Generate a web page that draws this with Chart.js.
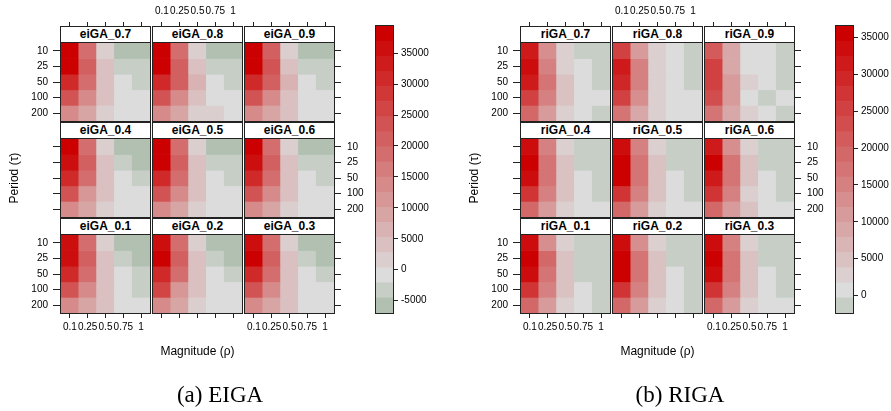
<!DOCTYPE html>
<html><head><meta charset="utf-8">
<script src="https://cdn.jsdelivr.net/npm/chart.js@4.4.1/dist/chart.umd.min.js"></script>
<style>
html,body{margin:0;padding:0;background:#fff;width:891px;height:411px;overflow:hidden;font-family:"Liberation Sans",Arial,sans-serif;}
canvas{position:absolute;left:0;top:0;}
.strip{position:absolute;box-sizing:border-box;background:#fff;border:1px solid #222;font-weight:bold;font-size:12px;text-align:center;line-height:15px;color:#000;white-space:nowrap;}
.lbl{position:absolute;font-size:12px;color:#000;white-space:nowrap;text-align:center;}
.cap{position:absolute;font-family:"Liberation Serif","DejaVu Serif",serif;font-size:23px;color:#000;white-space:nowrap;text-align:center;}
</style></head><body>
<script>
// ---------------- DATA ----------------
const magnitudes = ['0.1', '0.25', '0.5', '0.75', '1'];
const periods = ['10', '25', '50', '100', '200'];

// lattice layout (top row first)
const eigaLayout = [['eiGA_0.7', 'eiGA_0.8', 'eiGA_0.9'], ['eiGA_0.4', 'eiGA_0.5', 'eiGA_0.6'], ['eiGA_0.1', 'eiGA_0.2', 'eiGA_0.3']];
const rigaLayout = [['riGA_0.7', 'riGA_0.8', 'riGA_0.9'], ['riGA_0.4', 'riGA_0.5', 'riGA_0.6'], ['riGA_0.1', 'riGA_0.2', 'riGA_0.3']];

// rows = periods (10..200), columns = magnitudes (0.1..1)
const eiGA_01 = [[35700, 18600, 1550, -5800, -5800], [35700, 21100, 4000, -3300, -5800], [30900, 18600, 4000, -900, -3300], [23500, 13800, 4000, -900, -3300], [13800, 8900, 4000, -900, -900]];
const eiGA_02 = [[35700, 18600, 1550, -5800, -5800], [38200, 21100, 4000, -3300, -5800], [30900, 18600, 4000, -900, -3300], [26000, 11300, 4000, -900, -900], [13800, 8900, 1550, -900, -900]];
const eiGA_03 = [[35700, 18600, 1550, -5800, -5800], [38200, 21100, 4000, -3300, -5800], [30900, 18600, 4000, -900, -3300], [23500, 13800, 4000, -900, -900], [13800, 8900, 4000, -900, -900]];
const eiGA_04 = [[38200, 18600, 1550, -5800, -5800], [35700, 21100, 4000, -3300, -5800], [30900, 18600, 4000, -900, -3300], [23500, 11300, 4000, -900, -900], [13800, 8900, 1550, -900, -900]];
const eiGA_05 = [[38200, 18600, 1550, -5800, -5800], [38200, 21100, 4000, -3300, -3300], [30900, 18600, 4000, -900, -3300], [23500, 13800, 4000, -900, -900], [13800, 8900, 1550, -900, -900]];
const eiGA_06 = [[38200, 18600, 1550, -5800, -5800], [35700, 21100, 4000, -3300, -3300], [30900, 18600, 4000, -900, -3300], [23500, 13800, 4000, -900, -900], [13800, 8900, 1550, -900, -900]];
const eiGA_07 = [[38200, 18600, 1550, -5800, -5800], [38200, 21100, 4000, -3300, -3300], [30900, 18200, 4000, -900, -3300], [23500, 13800, 4000, -900, -900], [13800, 8900, 1550, -900, -900]];
const eiGA_08 = [[38200, 18600, 1550, -5800, -5800], [38200, 21100, 4000, -3300, -3300], [30900, 21100, 6400, -900, -3300], [23500, 13800, 4000, -900, -900], [13800, 8900, 1550, 1550, -900]];
const eiGA_09 = [[38200, 21100, 1550, -5800, -5800], [38200, 23500, 4000, -3300, -3300], [30900, 21100, 6400, -900, -3300], [23500, 13800, 4000, -900, -900], [13800, 8900, 4000, -900, -900]];

const riGA_01 = [[33500, 13000, 2800, -1300, -1300], [35500, 19100, 4800, -1300, -1300], [33500, 17100, 4800, -1300, -1300], [27300, 15000, 4800, 700, -1300], [19100, 11000, 2800, 700, -1300]];
const riGA_02 = [[33500, 14000, 2800, -1300, -1300], [35500, 17100, 4800, -1300, -1300], [35000, 17100, 4800, 700, -1300], [27300, 15000, 4800, 700, -1300], [19100, 11000, 2800, 700, -1300]];
const riGA_03 = [[33500, 15000, 2800, -1300, -1300], [35500, 17100, 4800, -1300, -1300], [33500, 17100, 4800, 700, -1300], [27300, 15000, 4800, 700, -1300], [19100, 11000, 2800, 700, 700]];
const riGA_04 = [[33500, 15000, 2800, -1300, -1300], [35500, 17100, 4800, -1300, -1300], [33500, 17100, 4800, 700, -1300], [27300, 15000, 4800, 700, -1300], [19100, 11000, 2800, 700, 700]];
const riGA_05 = [[33500, 15000, 2800, -1300, -1300], [35500, 17100, 4800, -1300, -1300], [35000, 17100, 4800, 700, -1300], [27300, 15000, 4800, 700, -1300], [19100, 11000, 2800, 700, 700]];
const riGA_06 = [[31400, 13000, 2800, -1300, -1300], [35500, 17100, 4800, -1300, -1300], [31400, 17100, 4800, 700, -1300], [27300, 15000, 2800, 700, -1300], [19100, 11000, 4800, 700, 700]];
const riGA_07 = [[31400, 13000, 2800, -1300, -1300], [33500, 15000, 2800, 700, -1300], [32000, 17100, 4800, 700, -1300], [25300, 15000, 4800, 700, 700], [19100, 11000, 2800, 700, -1300]];
const riGA_08 = [[25300, 11000, 2800, 700, -1300], [31400, 15000, 2800, 700, -1300], [29400, 15000, 2800, 700, -1300], [25300, 13000, 2800, 700, 700], [17100, 8900, 2800, 700, 700]];
const riGA_09 = [[21200, 8900, 700, 700, -1300], [25300, 8900, 700, 700, -1300], [25300, 11000, 2800, 700, -1300], [23200, 11000, 700, -1300, 700], [17100, 8900, 2800, 700, -1300]];

// colour key breaks and tick labels
const eigaBreaks = [-7000, -4558, -2116, 326, 2768, 5211, 7653, 10095, 12537, 14979, 17421, 19863, 22305, 24747, 27189, 29632, 32074, 34516, 36958, 39400];
const rigaBreaks = [-2350, -304, 1743, 3789, 5835, 7882, 9928, 11974, 14021, 16067, 18113, 20160, 22206, 24252, 26298, 28345, 30391, 32437, 34484, 36530];
const eigaKeyTicks = [-5000, 0, 5000, 10000, 15000, 20000, 25000, 30000, 35000];
const rigaKeyTicks = [0, 5000, 10000, 15000, 20000, 25000, 30000, 35000];

// ---------------- STYLE ----------------
const eigaBandColors = ['#B2C0B2', '#C6CEC6', '#DCDCDC', '#DBCECE', '#DAC0C0', '#D9B3B3', '#D8A5A5', '#D79797', '#D68A8A', '#D57C7C', '#D46E6E', '#D36060', '#D25353', '#D14545', '#D03737', '#CF2929', '#CE1C1C', '#CD0E0E', '#CC0000'];
const rigaBandColors = ['#C6CEC6', '#DCDCDC', '#DBCFCF', '#DAC2C2', '#D9B5B5', '#D8A8A8', '#D79B9B', '#D68E8E', '#D58181', '#D47474', '#D36868', '#D35B5B', '#D24E4E', '#D14141', '#D03434', '#CF2727', '#CE1A1A', '#CD0D0D', '#CC0000'];

const eigaValues = { 'eiGA_0.1': eiGA_01, 'eiGA_0.2': eiGA_02, 'eiGA_0.3': eiGA_03, 'eiGA_0.4': eiGA_04, 'eiGA_0.5': eiGA_05, 'eiGA_0.6': eiGA_06, 'eiGA_0.7': eiGA_07, 'eiGA_0.8': eiGA_08, 'eiGA_0.9': eiGA_09 };
const rigaValues = { 'riGA_0.1': riGA_01, 'riGA_0.2': riGA_02, 'riGA_0.3': riGA_03, 'riGA_0.4': riGA_04, 'riGA_0.5': riGA_05, 'riGA_0.6': riGA_06, 'riGA_0.7': riGA_07, 'riGA_0.8': riGA_08, 'riGA_0.9': riGA_09 };

const W = 891, H = 411;
const CELL_X0 = 61, PITCH_X = 92, CW = 89;
const CELL_Y0 = 43, PITCH_Y = 96, CH = 78;
const STRIP_H = 17;
const LINE = '#222';
const FONT = "'Liberation Sans', Arial, sans-serif";

Chart.defaults.font.family = FONT;
Chart.defaults.font.size = 10;
Chart.defaults.color = '#000';

function colorFor(v, breaks, colors) {
  for (let i = 0; i < colors.length; i++) {
    if (v >= breaks[i] && v < breaks[i + 1]) return colors[i];
  }
  return v < breaks[0] ? colors[0] : colors[colors.length - 1];
}

const framePlugin = {
  id: 'frame',
  afterDraw(chart) {
    const a = chart.chartArea, ctx = chart.ctx;
    ctx.save();
    ctx.strokeStyle = LINE; ctx.lineWidth = 1;
    ctx.strokeRect(a.left - 0.5, a.top - 0.5, a.right - a.left + 1, a.bottom - a.top + 1);
    ctx.restore();
  }
};

function makeCanvas() {
  const c = document.createElement('canvas');
  c.width = W; c.height = H;
  c.style.width = W + 'px'; c.style.height = H + 'px';
  document.body.appendChild(c);
  return c;
}

function addDiv(cls, text, css) {
  const d = document.createElement('div');
  d.className = cls; d.textContent = text;
  Object.assign(d.style, css);
  document.body.appendChild(d);
  return d;
}

function panelChart(name, values, row, col, ox, breaks, colors) {
  const left = ox + CELL_X0 + col * PITCH_X, top = CELL_Y0 + row * PITCH_Y;
  const hasTop = row === 0, hasBottom = row === 2, hasLeft = col === 0, hasRight = col === 2;
  const hasX = hasTop || hasBottom, hasY = hasLeft || hasRight;
  const showX = hasTop ? col === 1 : col !== 1;
  const showY = hasLeft ? row !== 1 : row === 1;
  const XT = 40, XB = 30, YL = 40, YR = 40;
  new Chart(makeCanvas(), {
    type: 'bar',
    data: {
      labels: magnitudes,
      datasets: periods.map((p, i) => ({
        label: p,
        data: magnitudes.map(() => 1),
        backgroundColor: values[i].map(v => colorFor(v, breaks, colors)),
        borderWidth: 0,
        barPercentage: 1,
        categoryPercentage: 1
      }))
    },
    options: {
      responsive: false, animation: false, devicePixelRatio: 1, events: [],
      layout: {
        padding: {
          left: left - (hasLeft ? YL : 0),
          right: W - (left + CW) - (hasRight ? YR : 0),
          top: top - (hasTop ? XT : 0),
          bottom: H - (top + CH) - (hasBottom ? XB : 0)
        }
      },
      plugins: { legend: { display: false }, tooltip: { enabled: false }, title: { display: false } },
      scales: {
        x: {
          type: 'category', stacked: true, offset: true,
          display: hasX,
          position: hasTop ? 'top' : 'bottom',
          grid: { offset: false, drawOnChartArea: false, drawTicks: true, tickLength: hasTop ? 21 : 5, color: LINE },
          border: { display: false },
          ticks: { display: showX, padding: hasTop ? 5 : 3, maxRotation: 0, minRotation: 0, autoSkip: false, color: '#000', font: { size: 10 } },
          afterFit: s => { s.height = hasX ? (hasTop ? XT : XB) : 0; }
        },
        y: {
          type: 'linear', stacked: true, min: 0, max: 5, reverse: true,
          display: hasY,
          position: hasLeft ? 'left' : 'right',
          grid: { drawOnChartArea: false, drawTicks: true, tickLength: hasLeft ? 8 : 7, color: LINE },
          border: { display: false },
          afterBuildTicks: s => { s.ticks = periods.map((p, i) => ({ value: i + 0.5 })); },
          ticks: { display: showY, autoSkip: false, padding: hasLeft ? 5 : 6, color: '#000', font: { size: 10 }, callback: (v, i) => periods[i] },
          afterFit: s => { s.width = hasY ? (hasLeft ? YL : YR) : 0; }
        }
      }
    },
    plugins: [framePlugin]
  });
  addDiv('strip', name, { left: (left - 1) + 'px', top: (top - STRIP_H) + 'px', width: (CW + 2) + 'px', height: STRIP_H + 'px' });
}

function keyChart(ox, breaks, colors, keyTicks) {
  const left = ox + 376, right = ox + 393, top = 26, bottom = 313;
  new Chart(makeCanvas(), {
    type: 'bar',
    data: {
      labels: ['key'],
      datasets: colors.map((c, i) => ({
        data: [[breaks[i], breaks[i + 1]]],
        backgroundColor: c, borderWidth: 0, grouped: false,
        barPercentage: 1, categoryPercentage: 1
      }))
    },
    options: {
      responsive: false, animation: false, devicePixelRatio: 1, events: [],
      layout: { padding: { left: left, right: W - right - 60, top: top, bottom: H - bottom } },
      plugins: { legend: { display: false }, tooltip: { enabled: false } },
      scales: {
        x: { display: false, offset: true },
        y: {
          type: 'linear', min: breaks[0], max: breaks[breaks.length - 1], position: 'right',
          grid: { drawOnChartArea: false, drawTicks: true, tickLength: 5, color: LINE },
          border: { display: false },
          afterBuildTicks: s => { s.ticks = keyTicks.map(v => ({ value: v })); },
          ticks: { autoSkip: false, padding: 3, color: '#000', font: { size: 10 }, callback: v => String(v) },
          afterFit: s => { s.width = 60; }
        }
      }
    },
    plugins: [framePlugin]
  });
}

function lattice(ox, layout, valueMap, breaks, colors, keyTicks, caption) {
  layout.forEach((rowNames, r) => rowNames.forEach((name, c) => {
    panelChart(name, valueMap[name], r, c, ox, breaks, colors);
  }));
  keyChart(ox, breaks, colors, keyTicks);
  const midX = ox + CELL_X0 + PITCH_X + CW / 2;
  addDiv('lbl', 'Magnitude (\u03C1)', { left: (midX - 60) + 'px', top: '343px', width: '120px', lineHeight: '16px' });
  addDiv('lbl', 'Period (\u03C4)', { left: (ox + 14 - 50) + 'px', top: (178 - 8) + 'px', width: '100px', lineHeight: '16px', transform: 'rotate(-90deg)' });
  addDiv('cap', caption, { left: (ox + 220 - 80) + 'px', top: '382px', width: '160px', lineHeight: '26px' });
}

lattice(0, eigaLayout, eigaValues, eigaBreaks, eigaBandColors, eigaKeyTicks, '(a) EIGA');
lattice(460, rigaLayout, rigaValues, rigaBreaks, rigaBandColors, rigaKeyTicks, '(b) RIGA');
</script>
</body></html>
